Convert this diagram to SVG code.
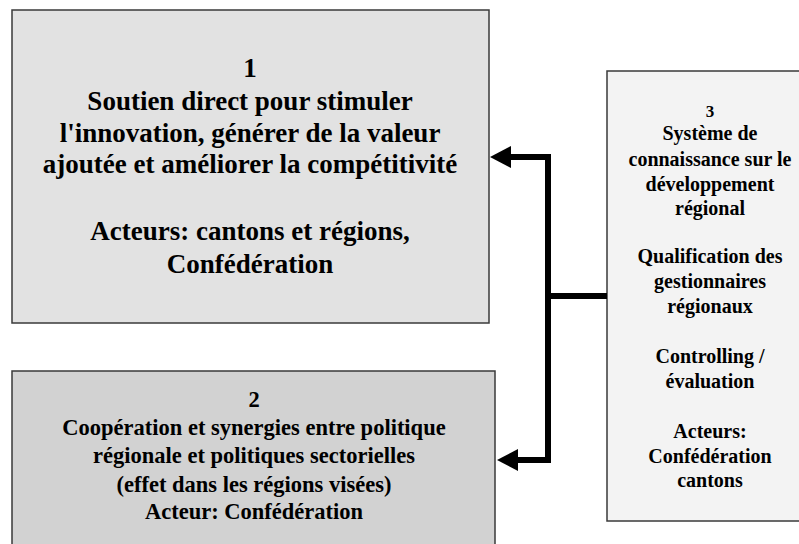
<svg xmlns="http://www.w3.org/2000/svg" width="799" height="544" viewBox="0 0 799 544">
<style>
.box{stroke:#3a3a3a;stroke-width:1.5}
.t{font-family:'Liberation Serif','Times New Roman',serif;font-weight:700;fill:#000;text-anchor:middle}
.t1{font-size:27px}
.t2{font-size:22.5px}
.t3{font-size:20px}
.conn{stroke:#000;stroke-width:6;fill:none}
</style>
<rect width="799" height="544" fill="#fff"/>
<g id="node1">
<rect class="box" x="12" y="10" width="477" height="313" fill="#e2e2e2"/>
<text class="t t1" x="250" y="77">1</text>
<text class="t t1" x="250" y="110">Soutien direct pour stimuler</text>
<text class="t t1" x="250" y="142">l'innovation, générer de la valeur</text>
<text class="t t1" x="250" y="173">ajoutée et améliorer la compétitivité</text>
<text class="t t1" x="250" y="240">Acteurs: cantons et régions,</text>
<text class="t t1" x="250" y="273">Confédération</text>
</g>
<g id="node2">
<rect class="box" x="12" y="371" width="483" height="180" fill="#d2d2d2"/>
<text class="t t2" x="254" y="407">2</text>
<text class="t t2" x="254" y="435">Coopération et synergies entre politique</text>
<text class="t t2" x="254" y="463">régionale et politiques sectorielles</text>
<text class="t t2" x="254" y="492">(effet dans les régions visées)</text>
<text class="t t2" x="254" y="519">Acteur: Confédération</text>
</g>
<g id="node3">
<rect class="box" x="607" y="71" width="210" height="450" fill="#f3f3f3"/>
<text class="t t3" x="710" y="117" style="font-size:17px">3</text>
<text class="t t3" x="710" y="140">Système de</text>
<text class="t t3" x="710" y="166">connaissance sur le</text>
<text class="t t3" x="710" y="191">développement</text>
<text class="t t3" x="710" y="215">régional</text>
<text class="t t3" x="710" y="263">Qualification des</text>
<text class="t t3" x="710" y="288">gestionnaires</text>
<text class="t t3" x="710" y="313">régionaux</text>
<text class="t t3" x="710" y="363">Controlling /</text>
<text class="t t3" x="710" y="388">évaluation</text>
<text class="t t3" x="710" y="438">Acteurs:</text>
<text class="t t3" x="710" y="463">Confédération</text>
<text class="t t3" x="710" y="487">cantons</text>
</g>
<g id="connectors">
<path class="conn" d="M607,296 H548"/>
<path class="conn" d="M548,154 V463"/>
<path class="conn" d="M551,157 H508"/>
<path class="conn" d="M551,460 H515"/>
<path d="M490,157 L511,146 L511,168 Z" fill="#000"/>
<path d="M497,460 L518,449 L518,471 Z" fill="#000"/>
</g>
</svg>
